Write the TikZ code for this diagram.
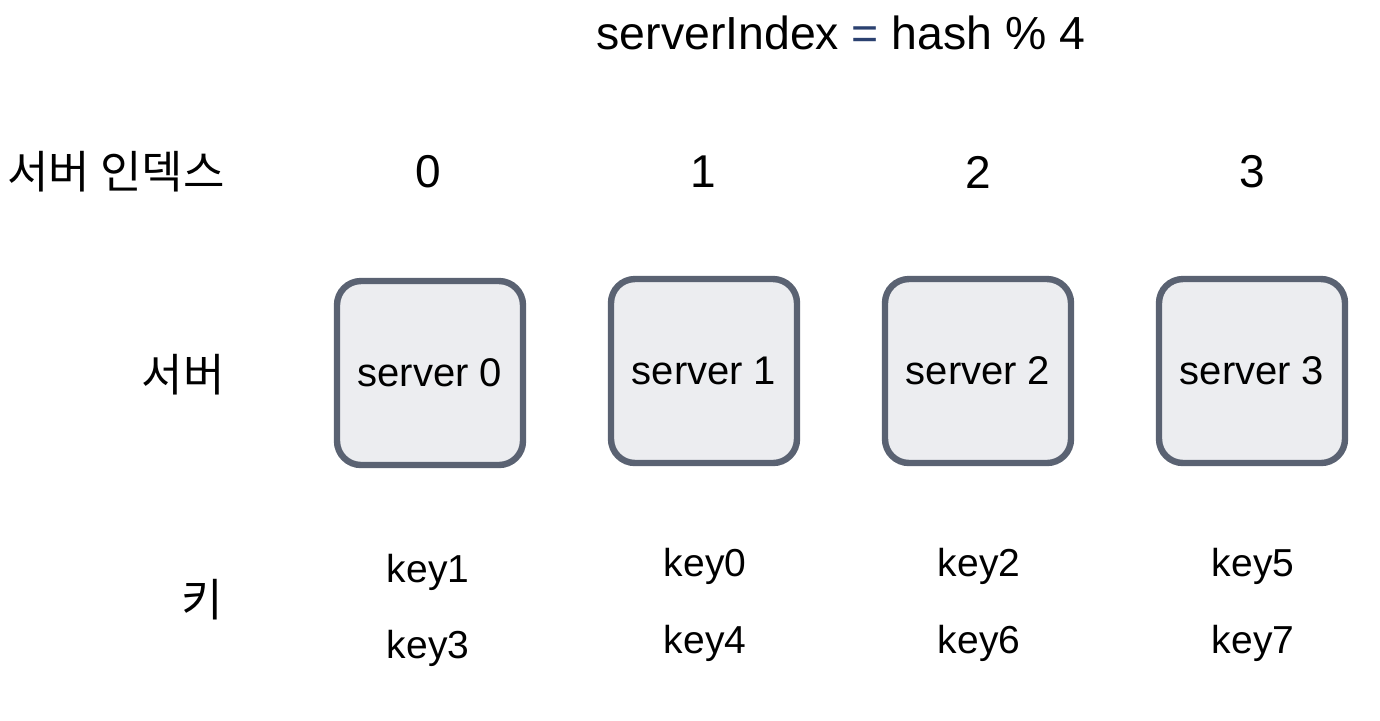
\documentclass[tikz,border=0pt]{standalone}
\usepackage{fontspec}
\setmainfont{Liberation Sans}
\newfontfamily\kr{Noto Sans CJK KR}
\definecolor{boxline}{HTML}{5A6272}
\definecolor{boxfill}{HTML}{ECEDF0}
\definecolor{eqblue}{HTML}{2B4170}
\begin{document}
\begin{tikzpicture}[x=0.5pt,y=-0.5pt,
  srv/.style={draw=boxline,line width=3.2pt,fill=boxfill,rounded corners=12pt,minimum width=93pt,minimum height=92pt,inner sep=0pt,font=\fontsize{20}{24}\selectfont},
  idx/.style={font=\fontsize{23}{27}\selectfont},
  keytxt/.style={font=\fontsize{19.5}{23}\selectfont},
  krlbl/.style={anchor=east,inner sep=0pt,font=\kr\fontsize{22.5}{26}\selectfont}]
\useasboundingbox (0,0) rectangle (1380,720);
\node[font=\fontsize{23.2}{27}\selectfont] (title) at (841,33) {serverIndex {\color{eqblue}=} hash \% 4};
\node[krlbl] (lidx) at (225,172) {서버 인덱스};
\node[krlbl] (lsrv) at (225,375) {서버};
\node[krlbl] (lkey) at (223,600) {키};
\node[idx] (i0) at (428,172) {0};
\node[idx] (i1) at (703,172) {1};
\node[idx] (i2) at (978,172) {2};
\node[idx] (i3) at (1252,172) {3};
\node[srv] (s0) at (430,373) {server 0};
\node[srv] (s1) at (704,371) {server 1};
\node[srv] (s2) at (978,371) {server 2};
\node[srv] (s3) at (1252,371) {server 3};
\node[keytxt] (k1) at (428,572) {key1};
\node[keytxt] (k3) at (428,648) {key3};
\node[keytxt] (k0) at (705,566) {key0};
\node[keytxt] (k4) at (705,643) {key4};
\node[keytxt] (k2) at (979,566) {key2};
\node[keytxt] (k6) at (979,643) {key6};
\node[keytxt] (k5) at (1253,566) {key5};
\node[keytxt] (k7) at (1253,643) {key7};
\end{tikzpicture}
\end{document}
